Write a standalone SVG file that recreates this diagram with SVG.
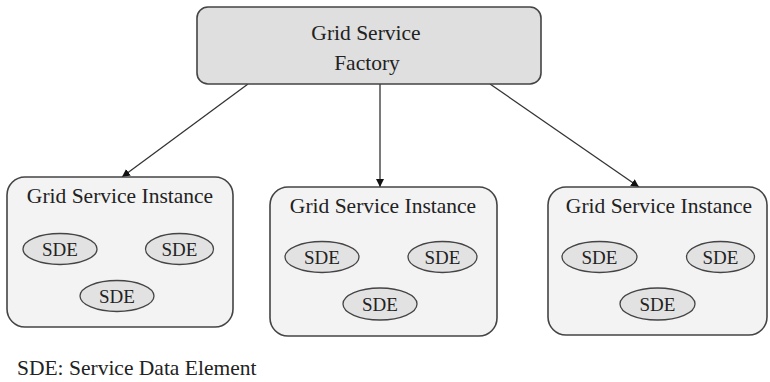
<svg xmlns="http://www.w3.org/2000/svg" width="770" height="382" viewBox="0 0 770 382">
  <style>
    text { font-family: "Liberation Serif", "Times New Roman", serif; fill: #222; }
    .factory { fill: #dfdfdf; stroke: #444; stroke-width: 1.6; }
    .instance { fill: #f3f3f3; stroke: #444; stroke-width: 1.6; }
    .sde { fill: #e2e2e2; stroke: #444; stroke-width: 1.3; }
    .title { font-size: 21.5px; text-anchor: middle; }
    .sdetxt { font-size: 19px; text-anchor: middle; }
    .note { font-size: 21.5px; }
    .conn { stroke: #333; stroke-width: 1.3; fill: none; marker-end: url(#arrow); }
  </style>
  <defs>
    <marker id="arrow" viewBox="0 0 10 10" refX="10" refY="5" markerWidth="8" markerHeight="8" markerUnits="userSpaceOnUse" orient="auto">
      <path d="M0,0 L10,5 L0,10 z" fill="#111"/>
    </marker>
  </defs>
  <rect width="770" height="382" fill="#ffffff"/>

  <!-- connectors from the factory to each instance -->
  <g id="connectors">
    <line class="conn" x1="248" y1="84" x2="122" y2="177"/>
    <line class="conn" x1="380" y1="84" x2="380" y2="187"/>
    <line class="conn" x1="490" y1="84" x2="639" y2="187"/>
  </g>

  <!-- factory -->
  <g id="factory">
    <rect class="factory" x="197" y="7" width="344" height="77" rx="11"/>
    <text class="title" x="366" y="40">Grid Service</text>
    <text class="title" x="367" y="70">Factory</text>
  </g>

  <!-- instance 1 -->
  <g id="instance1">
    <rect class="instance" x="7" y="177" width="226" height="150" rx="18"/>
    <text class="title" x="120" y="203">Grid Service Instance</text>
    <ellipse class="sde" cx="60" cy="249" rx="37" ry="15.5"/>
    <text class="sdetxt" x="60" y="256">SDE</text>
    <ellipse class="sde" cx="179.5" cy="249" rx="34" ry="15.5"/>
    <text class="sdetxt" x="179.5" y="256">SDE</text>
    <ellipse class="sde" cx="117" cy="296" rx="37" ry="15.5"/>
    <text class="sdetxt" x="117" y="303">SDE</text>
  </g>

  <!-- instance 2 -->
  <g id="instance2">
    <rect class="instance" x="270" y="187" width="227" height="149" rx="18"/>
    <text class="title" x="383" y="213">Grid Service Instance</text>
    <ellipse class="sde" cx="322" cy="257" rx="37" ry="15.5"/>
    <text class="sdetxt" x="322" y="264">SDE</text>
    <ellipse class="sde" cx="442.5" cy="257" rx="34.5" ry="15.5"/>
    <text class="sdetxt" x="442.5" y="264">SDE</text>
    <ellipse class="sde" cx="380" cy="304" rx="37" ry="16"/>
    <text class="sdetxt" x="380" y="311">SDE</text>
  </g>

  <!-- instance 3 -->
  <g id="instance3">
    <rect class="instance" x="548" y="187" width="219" height="148" rx="18"/>
    <text class="title" x="659" y="213">Grid Service Instance</text>
    <ellipse class="sde" cx="599.5" cy="257" rx="37.5" ry="15.5"/>
    <text class="sdetxt" x="599.5" y="264">SDE</text>
    <ellipse class="sde" cx="720.5" cy="257" rx="34" ry="15.5"/>
    <text class="sdetxt" x="720.5" y="264">SDE</text>
    <ellipse class="sde" cx="657.5" cy="304" rx="37.5" ry="16"/>
    <text class="sdetxt" x="657.5" y="311">SDE</text>
  </g>

  <!-- legend -->
  <g id="legend">
    <text class="note" x="17" y="375">SDE: Service Data Element</text>
  </g>
</svg>
